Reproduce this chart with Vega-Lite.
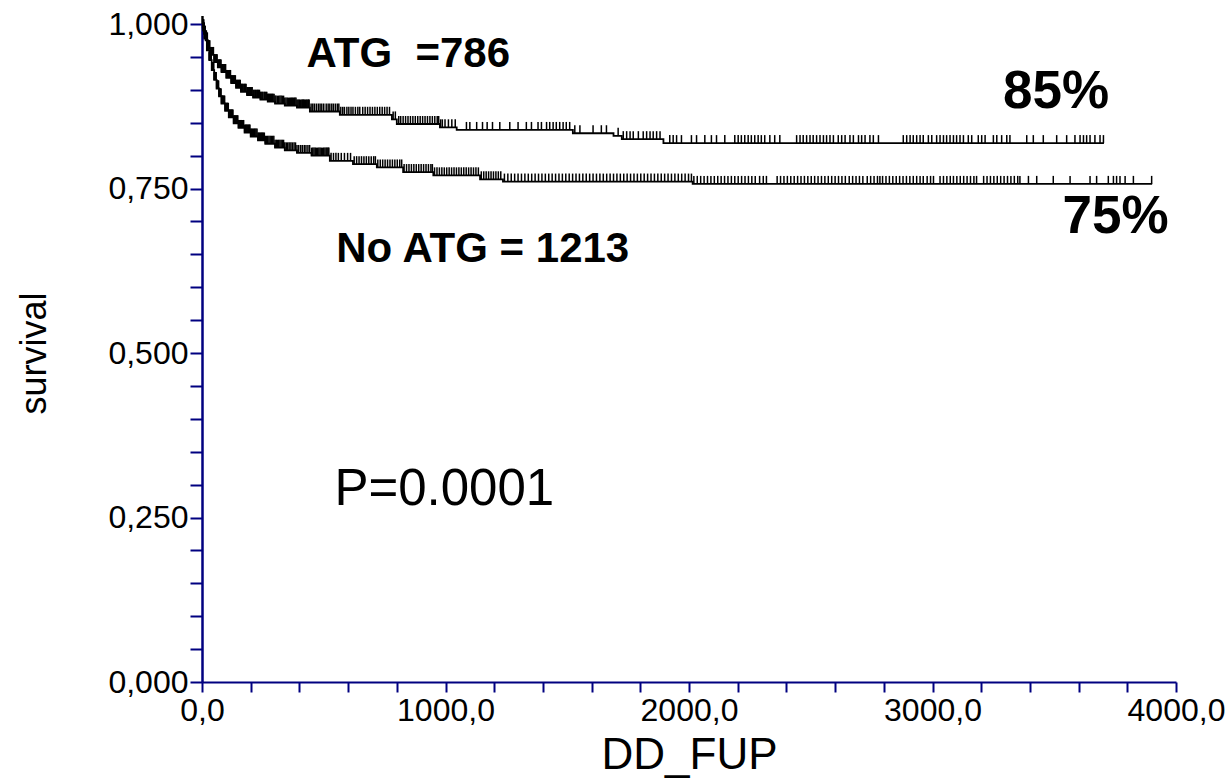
{
"$schema":"https://vega.github.io/schema/vega-lite/v6.json",
"autosize":{"type":"none"},
"padding":{"left":202,"top":24,"right":54,"bottom":97},
"width":974,"height":658,
"background":"white",
"config":{"view":{"stroke":null},"font":"Liberation Sans"},
"resolve":{"axis":{"y":"independent"}},
"datasets":{
"km":[
{"g":"A","t":0,"s":1},{"g":"A","t":3,"s":0.995},{"g":"A","t":8,"s":0.985},{"g":"A","t":15,"s":0.975},{"g":"A","t":25,"s":0.963},{"g":"A","t":35,"s":0.953},{"g":"A","t":50,"s":0.942},{"g":"A","t":65,"s":0.934},{"g":"A","t":80,"s":0.927},{"g":"A","t":100,"s":0.918},{"g":"A","t":120,"s":0.91},{"g":"A","t":140,"s":0.903},{"g":"A","t":160,"s":0.897},{"g":"A","t":185,"s":0.892},{"g":"A","t":210,"s":0.888},{"g":"A","t":240,"s":0.885},{"g":"A","t":270,"s":0.882},{"g":"A","t":300,"s":0.879},{"g":"A","t":340,"s":0.876},{"g":"A","t":390,"s":0.873},{"g":"A","t":443,"s":0.867},{"g":"A","t":566,"s":0.862},{"g":"A","t":780,"s":0.855},{"g":"A","t":800,"s":0.848},{"g":"A","t":977,"s":0.843},{"g":"A","t":1046,"s":0.839},{"g":"A","t":1523,"s":0.834},{"g":"A","t":1690,"s":0.83},{"g":"A","t":1724,"s":0.825},{"g":"A","t":1895,"s":0.819},{"g":"A","t":3704,"s":0.819},
{"g":"N","t":0,"s":1},{"g":"N","t":5,"s":0.99},{"g":"N","t":10,"s":0.978},{"g":"N","t":20,"s":0.96},{"g":"N","t":30,"s":0.945},{"g":"N","t":40,"s":0.93},{"g":"N","t":50,"s":0.915},{"g":"N","t":60,"s":0.902},{"g":"N","t":70,"s":0.89},{"g":"N","t":80,"s":0.879},{"g":"N","t":95,"s":0.868},{"g":"N","t":110,"s":0.858},{"g":"N","t":130,"s":0.849},{"g":"N","t":150,"s":0.842},{"g":"N","t":175,"s":0.835},{"g":"N","t":200,"s":0.829},{"g":"N","t":230,"s":0.823},{"g":"N","t":260,"s":0.818},{"g":"N","t":300,"s":0.812},{"g":"N","t":340,"s":0.808},{"g":"N","t":390,"s":0.804},{"g":"N","t":450,"s":0.8},{"g":"N","t":525,"s":0.792},{"g":"N","t":620,"s":0.787},{"g":"N","t":718,"s":0.782},{"g":"N","t":826,"s":0.775},{"g":"N","t":950,"s":0.77},{"g":"N","t":1142,"s":0.764},{"g":"N","t":1236,"s":0.7605},{"g":"N","t":2015,"s":0.757},{"g":"N","t":3902,"s":0.757}
],
"cens":[
{"g":"A","t":1,"s":1},{"g":"A","t":2,"s":1},{"g":"A","t":4,"s":0.995},{"g":"A","t":6,"s":0.995},{"g":"A","t":7,"s":0.995},{"g":"A","t":9,"s":0.985},{"g":"A","t":10,"s":0.985},{"g":"A","t":12,"s":0.985},{"g":"A","t":13,"s":0.985},{"g":"A","t":17,"s":0.975},{"g":"A","t":18,"s":0.975},{"g":"A","t":22,"s":0.975},{"g":"A","t":27,"s":0.963},{"g":"A","t":28,"s":0.963},{"g":"A","t":32,"s":0.963},{"g":"A","t":37,"s":0.953},{"g":"A","t":42,"s":0.953},{"g":"A","t":47,"s":0.953},{"g":"A","t":52,"s":0.942},{"g":"A","t":60,"s":0.942},{"g":"A","t":70,"s":0.934},{"g":"A","t":74,"s":0.934},{"g":"A","t":78,"s":0.934},{"g":"A","t":82,"s":0.927},{"g":"A","t":87,"s":0.927},{"g":"A","t":92,"s":0.927},{"g":"A","t":97,"s":0.927},{"g":"A","t":102,"s":0.918},{"g":"A","t":107,"s":0.918},{"g":"A","t":112,"s":0.918},{"g":"A","t":117,"s":0.918},{"g":"A","t":122,"s":0.91},{"g":"A","t":127,"s":0.91},{"g":"A","t":132,"s":0.91},{"g":"A","t":137,"s":0.91},{"g":"A","t":142,"s":0.903},{"g":"A","t":147,"s":0.903},{"g":"A","t":152,"s":0.903},{"g":"A","t":157,"s":0.903},{"g":"A","t":162,"s":0.897},{"g":"A","t":168,"s":0.897},{"g":"A","t":175,"s":0.897},{"g":"A","t":181,"s":0.897},{"g":"A","t":188,"s":0.892},{"g":"A","t":194,"s":0.892},{"g":"A","t":200,"s":0.892},{"g":"A","t":206,"s":0.892},{"g":"A","t":213,"s":0.888},{"g":"A","t":220,"s":0.888},{"g":"A","t":228,"s":0.888},{"g":"A","t":236,"s":0.888},{"g":"A","t":243,"s":0.885},{"g":"A","t":250,"s":0.885},{"g":"A","t":258,"s":0.885},{"g":"A","t":266,"s":0.885},{"g":"A","t":273,"s":0.882},{"g":"A","t":281,"s":0.882},{"g":"A","t":289,"s":0.882},{"g":"A","t":296,"s":0.882},{"g":"A","t":304,"s":0.879},{"g":"A","t":315,"s":0.879},{"g":"A","t":325,"s":0.879},{"g":"A","t":335,"s":0.879},{"g":"A","t":345,"s":0.876},{"g":"A","t":355,"s":0.876},{"g":"A","t":364,"s":0.876},{"g":"A","t":371,"s":0.876},{"g":"A","t":379,"s":0.876},{"g":"A","t":386,"s":0.876},{"g":"A","t":394,"s":0.873},{"g":"A","t":401,"s":0.873},{"g":"A","t":412,"s":0.873},{"g":"A","t":418,"s":0.873},{"g":"A","t":428,"s":0.873},{"g":"A","t":438,"s":0.873},
{"g":"A","t":3,"s":0.995},{"g":"A","t":5,"s":0.995},{"g":"A","t":8,"s":0.985},{"g":"A","t":11,"s":0.985},{"g":"A","t":15,"s":0.975},{"g":"A","t":20,"s":0.975},{"g":"A","t":25,"s":0.963},{"g":"A","t":30,"s":0.963},{"g":"A","t":35,"s":0.953},{"g":"A","t":40,"s":0.953},{"g":"A","t":45,"s":0.953},{"g":"A","t":50,"s":0.942},{"g":"A","t":55,"s":0.942},{"g":"A","t":58,"s":0.942},{"g":"A","t":62,"s":0.942},{"g":"A","t":65,"s":0.934},{"g":"A","t":68,"s":0.934},{"g":"A","t":72,"s":0.934},{"g":"A","t":76,"s":0.934},{"g":"A","t":80,"s":0.927},{"g":"A","t":85,"s":0.927},{"g":"A","t":90,"s":0.927},{"g":"A","t":95,"s":0.927},{"g":"A","t":100,"s":0.918},{"g":"A","t":105,"s":0.918},{"g":"A","t":110,"s":0.918},{"g":"A","t":115,"s":0.918},{"g":"A","t":120,"s":0.91},{"g":"A","t":125,"s":0.91},{"g":"A","t":130,"s":0.91},{"g":"A","t":135,"s":0.91},{"g":"A","t":140,"s":0.903},{"g":"A","t":145,"s":0.903},{"g":"A","t":150,"s":0.903},{"g":"A","t":155,"s":0.903},{"g":"A","t":160,"s":0.897},{"g":"A","t":165,"s":0.897},{"g":"A","t":172,"s":0.897},{"g":"A","t":178,"s":0.897},{"g":"A","t":185,"s":0.892},{"g":"A","t":190,"s":0.892},{"g":"A","t":197,"s":0.892},{"g":"A","t":203,"s":0.892},{"g":"A","t":210,"s":0.888},{"g":"A","t":217,"s":0.888},{"g":"A","t":225,"s":0.888},{"g":"A","t":232,"s":0.888},{"g":"A","t":240,"s":0.885},{"g":"A","t":247,"s":0.885},{"g":"A","t":255,"s":0.885},{"g":"A","t":262,"s":0.885},{"g":"A","t":270,"s":0.882},{"g":"A","t":277,"s":0.882},{"g":"A","t":285,"s":0.882},{"g":"A","t":292,"s":0.882},{"g":"A","t":300,"s":0.879},{"g":"A","t":310,"s":0.879},{"g":"A","t":320,"s":0.879},{"g":"A","t":330,"s":0.879},{"g":"A","t":340,"s":0.876},{"g":"A","t":350,"s":0.876},{"g":"A","t":360,"s":0.876},{"g":"A","t":368,"s":0.876},{"g":"A","t":375,"s":0.876},{"g":"A","t":382,"s":0.876},{"g":"A","t":390,"s":0.873},{"g":"A","t":398,"s":0.873},{"g":"A","t":405,"s":0.873},{"g":"A","t":410,"s":0.873},{"g":"A","t":415,"s":0.873},{"g":"A","t":420,"s":0.873},{"g":"A","t":425,"s":0.873},{"g":"A","t":432,"s":0.873},{"g":"A","t":436,"s":0.873},{"g":"A","t":440,"s":0.873},
{"g":"A","t":448,"s":0.867},{"g":"A","t":455,"s":0.867},{"g":"A","t":462,"s":0.867},{"g":"A","t":470,"s":0.867},{"g":"A","t":478,"s":0.867},{"g":"A","t":485,"s":0.867},{"g":"A","t":492,"s":0.867},{"g":"A","t":500,"s":0.867},{"g":"A","t":510,"s":0.867},{"g":"A","t":518,"s":0.867},{"g":"A","t":525,"s":0.867},{"g":"A","t":533,"s":0.867},{"g":"A","t":540,"s":0.867},{"g":"A","t":548,"s":0.867},{"g":"A","t":556,"s":0.867},{"g":"A","t":562,"s":0.867},
{"g":"A","t":570,"s":0.862},{"g":"A","t":578,"s":0.862},{"g":"A","t":585,"s":0.862},{"g":"A","t":595,"s":0.862},{"g":"A","t":603,"s":0.862},{"g":"A","t":612,"s":0.862},{"g":"A","t":620,"s":0.862},{"g":"A","t":630,"s":0.862},{"g":"A","t":640,"s":0.862},{"g":"A","t":648,"s":0.862},{"g":"A","t":660,"s":0.862},{"g":"A","t":670,"s":0.862},{"g":"A","t":680,"s":0.862},{"g":"A","t":690,"s":0.862},{"g":"A","t":700,"s":0.862},{"g":"A","t":710,"s":0.862},{"g":"A","t":720,"s":0.862},{"g":"A","t":730,"s":0.862},{"g":"A","t":740,"s":0.862},{"g":"A","t":750,"s":0.862},{"g":"A","t":760,"s":0.862},{"g":"A","t":770,"s":0.862},
{"g":"A","t":785,"s":0.855},{"g":"A","t":794,"s":0.855},
{"g":"A","t":808,"s":0.848},{"g":"A","t":816,"s":0.848},{"g":"A","t":826,"s":0.848},{"g":"A","t":836,"s":0.848},{"g":"A","t":846,"s":0.848},{"g":"A","t":856,"s":0.848},{"g":"A","t":866,"s":0.848},{"g":"A","t":876,"s":0.848},{"g":"A","t":886,"s":0.848},{"g":"A","t":896,"s":0.848},{"g":"A","t":906,"s":0.848},{"g":"A","t":916,"s":0.848},{"g":"A","t":926,"s":0.848},{"g":"A","t":936,"s":0.848},{"g":"A","t":946,"s":0.848},{"g":"A","t":956,"s":0.848},{"g":"A","t":966,"s":0.848},{"g":"A","t":972,"s":0.848},
{"g":"A","t":980,"s":0.843},{"g":"A","t":987,"s":0.843},{"g":"A","t":998,"s":0.843},{"g":"A","t":1012,"s":0.843},{"g":"A","t":1026,"s":0.843},{"g":"A","t":1040,"s":0.843},
{"g":"A","t":1086,"s":0.839},{"g":"A","t":1100,"s":0.839},{"g":"A","t":1128,"s":0.839},{"g":"A","t":1152,"s":0.839},{"g":"A","t":1171,"s":0.839},{"g":"A","t":1193,"s":0.839},{"g":"A","t":1223,"s":0.839},{"g":"A","t":1264,"s":0.839},{"g":"A","t":1298,"s":0.839},{"g":"A","t":1332,"s":0.839},{"g":"A","t":1353,"s":0.839},{"g":"A","t":1380,"s":0.839},{"g":"A","t":1394,"s":0.839},{"g":"A","t":1415,"s":0.839},{"g":"A","t":1428,"s":0.839},{"g":"A","t":1442,"s":0.839},{"g":"A","t":1455,"s":0.839},{"g":"A","t":1469,"s":0.839},{"g":"A","t":1483,"s":0.839},{"g":"A","t":1496,"s":0.839},{"g":"A","t":1510,"s":0.839},
{"g":"A","t":1531,"s":0.834},{"g":"A","t":1552,"s":0.834},{"g":"A","t":1606,"s":0.834},{"g":"A","t":1640,"s":0.834},{"g":"A","t":1661,"s":0.834},
{"g":"A","t":1709,"s":0.83},
{"g":"A","t":1730,"s":0.825},{"g":"A","t":1744,"s":0.825},{"g":"A","t":1758,"s":0.825},{"g":"A","t":1771,"s":0.825},{"g":"A","t":1792,"s":0.825},{"g":"A","t":1812,"s":0.825},{"g":"A","t":1826,"s":0.825},{"g":"A","t":1840,"s":0.825},{"g":"A","t":1853,"s":0.825},{"g":"A","t":1867,"s":0.825},{"g":"A","t":1881,"s":0.825},
{"g":"A","t":1921,"s":0.819},{"g":"A","t":1935,"s":0.819},{"g":"A","t":1949,"s":0.819},{"g":"A","t":1969,"s":0.819},{"g":"A","t":2010,"s":0.819},{"g":"A","t":2031,"s":0.819},{"g":"A","t":2065,"s":0.819},{"g":"A","t":2092,"s":0.819},{"g":"A","t":2113,"s":0.819},{"g":"A","t":2147,"s":0.819},{"g":"A","t":2188,"s":0.819},{"g":"A","t":2202,"s":0.819},{"g":"A","t":2215,"s":0.819},{"g":"A","t":2229,"s":0.819},{"g":"A","t":2243,"s":0.819},{"g":"A","t":2256,"s":0.819},{"g":"A","t":2270,"s":0.819},{"g":"A","t":2284,"s":0.819},{"g":"A","t":2297,"s":0.819},{"g":"A","t":2311,"s":0.819},{"g":"A","t":2332,"s":0.819},{"g":"A","t":2352,"s":0.819},{"g":"A","t":2373,"s":0.819},{"g":"A","t":2442,"s":0.819},{"g":"A","t":2456,"s":0.819},{"g":"A","t":2469,"s":0.819},{"g":"A","t":2483,"s":0.819},{"g":"A","t":2497,"s":0.819},{"g":"A","t":2510,"s":0.819},{"g":"A","t":2524,"s":0.819},{"g":"A","t":2538,"s":0.819},{"g":"A","t":2552,"s":0.819},{"g":"A","t":2565,"s":0.819},{"g":"A","t":2579,"s":0.819},{"g":"A","t":2593,"s":0.819},{"g":"A","t":2613,"s":0.819},{"g":"A","t":2627,"s":0.819},{"g":"A","t":2641,"s":0.819},{"g":"A","t":2661,"s":0.819},{"g":"A","t":2675,"s":0.819},{"g":"A","t":2696,"s":0.819},{"g":"A","t":2709,"s":0.819},{"g":"A","t":2723,"s":0.819},{"g":"A","t":2743,"s":0.819},{"g":"A","t":2757,"s":0.819},{"g":"A","t":2778,"s":0.819},{"g":"A","t":2880,"s":0.819},{"g":"A","t":2894,"s":0.819},{"g":"A","t":2908,"s":0.819},{"g":"A","t":2921,"s":0.819},{"g":"A","t":2935,"s":0.819},{"g":"A","t":2949,"s":0.819},{"g":"A","t":2962,"s":0.819},{"g":"A","t":2983,"s":0.819},{"g":"A","t":2997,"s":0.819},{"g":"A","t":3017,"s":0.819},{"g":"A","t":3031,"s":0.819},{"g":"A","t":3045,"s":0.819},{"g":"A","t":3058,"s":0.819},{"g":"A","t":3072,"s":0.819},{"g":"A","t":3086,"s":0.819},{"g":"A","t":3099,"s":0.819},{"g":"A","t":3113,"s":0.819},{"g":"A","t":3127,"s":0.819},{"g":"A","t":3147,"s":0.819},{"g":"A","t":3161,"s":0.819},{"g":"A","t":3188,"s":0.819},{"g":"A","t":3202,"s":0.819},{"g":"A","t":3216,"s":0.819},{"g":"A","t":3250,"s":0.819},{"g":"A","t":3264,"s":0.819},{"g":"A","t":3284,"s":0.819},{"g":"A","t":3305,"s":0.819},{"g":"A","t":3318,"s":0.819},{"g":"A","t":3387,"s":0.819},{"g":"A","t":3414,"s":0.819},{"g":"A","t":3455,"s":0.819},{"g":"A","t":3510,"s":0.819},{"g":"A","t":3551,"s":0.819},{"g":"A","t":3585,"s":0.819},{"g":"A","t":3606,"s":0.819},{"g":"A","t":3620,"s":0.819},{"g":"A","t":3633,"s":0.819},{"g":"A","t":3647,"s":0.819},{"g":"A","t":3667,"s":0.819},{"g":"A","t":3688,"s":0.819},{"g":"A","t":3702,"s":0.819},
{"g":"N","t":2,"s":1},{"g":"N","t":3,"s":1},{"g":"N","t":6,"s":0.99},{"g":"N","t":8,"s":0.99},{"g":"N","t":9,"s":0.99},{"g":"N","t":11,"s":0.978},{"g":"N","t":13,"s":0.978},{"g":"N","t":14,"s":0.978},{"g":"N","t":18,"s":0.978},{"g":"N","t":21,"s":0.96},{"g":"N","t":23,"s":0.96},{"g":"N","t":24,"s":0.96},{"g":"N","t":28,"s":0.96},{"g":"N","t":31,"s":0.945},{"g":"N","t":33,"s":0.945},{"g":"N","t":38,"s":0.945},{"g":"N","t":43,"s":0.93},{"g":"N","t":48,"s":0.93},{"g":"N","t":53,"s":0.915},{"g":"N","t":58,"s":0.915},{"g":"N","t":63,"s":0.902},{"g":"N","t":68,"s":0.902},{"g":"N","t":73,"s":0.89},{"g":"N","t":78,"s":0.89},{"g":"N","t":82,"s":0.879},{"g":"N","t":86,"s":0.879},{"g":"N","t":93,"s":0.879},{"g":"N","t":97,"s":0.868},{"g":"N","t":104,"s":0.868},{"g":"N","t":108,"s":0.868},{"g":"N","t":112,"s":0.858},{"g":"N","t":117,"s":0.858},{"g":"N","t":122,"s":0.858},{"g":"N","t":127,"s":0.858},{"g":"N","t":132,"s":0.849},{"g":"N","t":137,"s":0.849},{"g":"N","t":142,"s":0.849},{"g":"N","t":147,"s":0.849},{"g":"N","t":153,"s":0.842},{"g":"N","t":159,"s":0.842},{"g":"N","t":165,"s":0.842},{"g":"N","t":171,"s":0.842},{"g":"N","t":178,"s":0.835},{"g":"N","t":184,"s":0.835},{"g":"N","t":191,"s":0.835},{"g":"N","t":197,"s":0.835},{"g":"N","t":203,"s":0.829},{"g":"N","t":211,"s":0.829},{"g":"N","t":218,"s":0.829},{"g":"N","t":226,"s":0.829},{"g":"N","t":233,"s":0.823},{"g":"N","t":241,"s":0.823},{"g":"N","t":248,"s":0.823},{"g":"N","t":256,"s":0.823},{"g":"N","t":265,"s":0.818},{"g":"N","t":275,"s":0.818},{"g":"N","t":285,"s":0.818},{"g":"N","t":295,"s":0.818},{"g":"N","t":305,"s":0.812},{"g":"N","t":315,"s":0.812},{"g":"N","t":325,"s":0.812},{"g":"N","t":335,"s":0.812},{"g":"N","t":346,"s":0.808},{"g":"N","t":358,"s":0.808},{"g":"N","t":371,"s":0.808},{"g":"N","t":384,"s":0.808},{"g":"N","t":397,"s":0.804},{"g":"N","t":412,"s":0.804},{"g":"N","t":427,"s":0.804},{"g":"N","t":442,"s":0.804},{"g":"N","t":455,"s":0.8},{"g":"N","t":465,"s":0.8},{"g":"N","t":475,"s":0.8},{"g":"N","t":485,"s":0.8},{"g":"N","t":495,"s":0.8},{"g":"N","t":505,"s":0.8},{"g":"N","t":514,"s":0.8},{"g":"N","t":521,"s":0.8},
{"g":"N","t":5,"s":0.99},{"g":"N","t":7,"s":0.99},{"g":"N","t":10,"s":0.978},{"g":"N","t":12,"s":0.978},{"g":"N","t":15,"s":0.978},{"g":"N","t":17,"s":0.978},{"g":"N","t":20,"s":0.96},{"g":"N","t":22,"s":0.96},{"g":"N","t":25,"s":0.96},{"g":"N","t":27,"s":0.96},{"g":"N","t":30,"s":0.945},{"g":"N","t":32,"s":0.945},{"g":"N","t":35,"s":0.945},{"g":"N","t":37,"s":0.945},{"g":"N","t":40,"s":0.93},{"g":"N","t":42,"s":0.93},{"g":"N","t":45,"s":0.93},{"g":"N","t":47,"s":0.93},{"g":"N","t":50,"s":0.915},{"g":"N","t":52,"s":0.915},{"g":"N","t":55,"s":0.915},{"g":"N","t":57,"s":0.915},{"g":"N","t":60,"s":0.902},{"g":"N","t":62,"s":0.902},{"g":"N","t":65,"s":0.902},{"g":"N","t":67,"s":0.902},{"g":"N","t":70,"s":0.89},{"g":"N","t":72,"s":0.89},{"g":"N","t":75,"s":0.89},{"g":"N","t":77,"s":0.89},{"g":"N","t":80,"s":0.879},{"g":"N","t":84,"s":0.879},{"g":"N","t":88,"s":0.879},{"g":"N","t":91,"s":0.879},{"g":"N","t":95,"s":0.868},{"g":"N","t":99,"s":0.868},{"g":"N","t":102,"s":0.868},{"g":"N","t":106,"s":0.868},{"g":"N","t":110,"s":0.858},{"g":"N","t":115,"s":0.858},{"g":"N","t":120,"s":0.858},{"g":"N","t":125,"s":0.858},{"g":"N","t":130,"s":0.849},{"g":"N","t":135,"s":0.849},{"g":"N","t":140,"s":0.849},{"g":"N","t":145,"s":0.849},{"g":"N","t":150,"s":0.842},{"g":"N","t":156,"s":0.842},{"g":"N","t":162,"s":0.842},{"g":"N","t":168,"s":0.842},{"g":"N","t":175,"s":0.835},{"g":"N","t":181,"s":0.835},{"g":"N","t":188,"s":0.835},{"g":"N","t":194,"s":0.835},{"g":"N","t":200,"s":0.829},{"g":"N","t":207,"s":0.829},{"g":"N","t":215,"s":0.829},{"g":"N","t":222,"s":0.829},{"g":"N","t":230,"s":0.823},{"g":"N","t":237,"s":0.823},{"g":"N","t":245,"s":0.823},{"g":"N","t":252,"s":0.823},{"g":"N","t":260,"s":0.818},{"g":"N","t":270,"s":0.818},{"g":"N","t":280,"s":0.818},{"g":"N","t":290,"s":0.818},{"g":"N","t":300,"s":0.812},{"g":"N","t":310,"s":0.812},{"g":"N","t":320,"s":0.812},{"g":"N","t":330,"s":0.812},{"g":"N","t":340,"s":0.808},{"g":"N","t":352,"s":0.808},{"g":"N","t":365,"s":0.808},{"g":"N","t":378,"s":0.808},{"g":"N","t":390,"s":0.804},{"g":"N","t":405,"s":0.804},{"g":"N","t":420,"s":0.804},{"g":"N","t":435,"s":0.804},{"g":"N","t":450,"s":0.8},{"g":"N","t":460,"s":0.8},{"g":"N","t":470,"s":0.8},{"g":"N","t":480,"s":0.8},{"g":"N","t":490,"s":0.8},{"g":"N","t":500,"s":0.8},{"g":"N","t":510,"s":0.8},{"g":"N","t":518,"s":0.8},
{"g":"N","t":530,"s":0.792},{"g":"N","t":540,"s":0.792},{"g":"N","t":550,"s":0.792},{"g":"N","t":560,"s":0.792},{"g":"N","t":572,"s":0.792},{"g":"N","t":585,"s":0.792},{"g":"N","t":598,"s":0.792},{"g":"N","t":610,"s":0.792},
{"g":"N","t":625,"s":0.787},{"g":"N","t":635,"s":0.787},{"g":"N","t":645,"s":0.787},{"g":"N","t":655,"s":0.787},{"g":"N","t":665,"s":0.787},{"g":"N","t":675,"s":0.787},{"g":"N","t":685,"s":0.787},{"g":"N","t":695,"s":0.787},{"g":"N","t":705,"s":0.787},{"g":"N","t":712,"s":0.787},
{"g":"N","t":722,"s":0.782},{"g":"N","t":732,"s":0.782},{"g":"N","t":742,"s":0.782},{"g":"N","t":752,"s":0.782},{"g":"N","t":762,"s":0.782},{"g":"N","t":772,"s":0.782},{"g":"N","t":782,"s":0.782},{"g":"N","t":792,"s":0.782},{"g":"N","t":802,"s":0.782},{"g":"N","t":812,"s":0.782},{"g":"N","t":820,"s":0.782},
{"g":"N","t":830,"s":0.775},{"g":"N","t":840,"s":0.775},{"g":"N","t":850,"s":0.775},{"g":"N","t":860,"s":0.775},{"g":"N","t":870,"s":0.775},{"g":"N","t":880,"s":0.775},{"g":"N","t":890,"s":0.775},{"g":"N","t":900,"s":0.775},{"g":"N","t":910,"s":0.775},{"g":"N","t":920,"s":0.775},{"g":"N","t":930,"s":0.775},{"g":"N","t":940,"s":0.775},{"g":"N","t":946,"s":0.775},
{"g":"N","t":955,"s":0.77},{"g":"N","t":965,"s":0.77},{"g":"N","t":975,"s":0.77},{"g":"N","t":985,"s":0.77},{"g":"N","t":995,"s":0.77},{"g":"N","t":1005,"s":0.77},{"g":"N","t":1015,"s":0.77},{"g":"N","t":1025,"s":0.77},{"g":"N","t":1035,"s":0.77},{"g":"N","t":1045,"s":0.77},{"g":"N","t":1055,"s":0.77},{"g":"N","t":1065,"s":0.77},{"g":"N","t":1075,"s":0.77},{"g":"N","t":1085,"s":0.77},{"g":"N","t":1095,"s":0.77},{"g":"N","t":1105,"s":0.77},{"g":"N","t":1115,"s":0.77},{"g":"N","t":1125,"s":0.77},{"g":"N","t":1135,"s":0.77},
{"g":"N","t":1147,"s":0.764},{"g":"N","t":1157,"s":0.764},{"g":"N","t":1167,"s":0.764},{"g":"N","t":1177,"s":0.764},{"g":"N","t":1187,"s":0.764},{"g":"N","t":1197,"s":0.764},{"g":"N","t":1207,"s":0.764},{"g":"N","t":1217,"s":0.764},{"g":"N","t":1227,"s":0.764},
{"g":"N","t":1242,"s":0.7605},{"g":"N","t":1256,"s":0.7605},{"g":"N","t":1270,"s":0.7605},{"g":"N","t":1284,"s":0.7605},{"g":"N","t":1298,"s":0.7605},{"g":"N","t":1312,"s":0.7605},{"g":"N","t":1326,"s":0.7605},{"g":"N","t":1340,"s":0.7605},{"g":"N","t":1354,"s":0.7605},{"g":"N","t":1368,"s":0.7605},{"g":"N","t":1382,"s":0.7605},{"g":"N","t":1396,"s":0.7605},{"g":"N","t":1410,"s":0.7605},{"g":"N","t":1424,"s":0.7605},{"g":"N","t":1438,"s":0.7605},{"g":"N","t":1452,"s":0.7605},{"g":"N","t":1466,"s":0.7605},{"g":"N","t":1480,"s":0.7605},{"g":"N","t":1494,"s":0.7605},{"g":"N","t":1508,"s":0.7605},{"g":"N","t":1522,"s":0.7605},{"g":"N","t":1536,"s":0.7605},{"g":"N","t":1550,"s":0.7605},{"g":"N","t":1564,"s":0.7605},{"g":"N","t":1578,"s":0.7605},{"g":"N","t":1592,"s":0.7605},{"g":"N","t":1606,"s":0.7605},{"g":"N","t":1620,"s":0.7605},{"g":"N","t":1634,"s":0.7605},{"g":"N","t":1648,"s":0.7605},{"g":"N","t":1662,"s":0.7605},{"g":"N","t":1676,"s":0.7605},{"g":"N","t":1690,"s":0.7605},{"g":"N","t":1704,"s":0.7605},{"g":"N","t":1718,"s":0.7605},{"g":"N","t":1732,"s":0.7605},{"g":"N","t":1746,"s":0.7605},{"g":"N","t":1760,"s":0.7605},{"g":"N","t":1774,"s":0.7605},{"g":"N","t":1788,"s":0.7605},{"g":"N","t":1802,"s":0.7605},{"g":"N","t":1816,"s":0.7605},{"g":"N","t":1830,"s":0.7605},{"g":"N","t":1844,"s":0.7605},{"g":"N","t":1858,"s":0.7605},{"g":"N","t":1872,"s":0.7605},{"g":"N","t":1886,"s":0.7605},{"g":"N","t":1900,"s":0.7605},{"g":"N","t":1914,"s":0.7605},{"g":"N","t":1928,"s":0.7605},{"g":"N","t":1942,"s":0.7605},{"g":"N","t":1956,"s":0.7605},{"g":"N","t":1970,"s":0.7605},{"g":"N","t":1984,"s":0.7605},{"g":"N","t":1998,"s":0.7605},{"g":"N","t":2010,"s":0.7605},
{"g":"N","t":2020,"s":0.757},{"g":"N","t":2034,"s":0.757},{"g":"N","t":2048,"s":0.757},{"g":"N","t":2062,"s":0.757},{"g":"N","t":2076,"s":0.757},{"g":"N","t":2090,"s":0.757},{"g":"N","t":2104,"s":0.757},{"g":"N","t":2118,"s":0.757},{"g":"N","t":2132,"s":0.757},{"g":"N","t":2146,"s":0.757},{"g":"N","t":2160,"s":0.757},{"g":"N","t":2174,"s":0.757},{"g":"N","t":2188,"s":0.757},{"g":"N","t":2202,"s":0.757},{"g":"N","t":2216,"s":0.757},{"g":"N","t":2230,"s":0.757},{"g":"N","t":2244,"s":0.757},{"g":"N","t":2258,"s":0.757},{"g":"N","t":2272,"s":0.757},{"g":"N","t":2290,"s":0.757},{"g":"N","t":2305,"s":0.757},{"g":"N","t":2318,"s":0.757},{"g":"N","t":2362,"s":0.757},{"g":"N","t":2376,"s":0.757},{"g":"N","t":2390,"s":0.757},{"g":"N","t":2404,"s":0.757},{"g":"N","t":2418,"s":0.757},{"g":"N","t":2432,"s":0.757},{"g":"N","t":2446,"s":0.757},{"g":"N","t":2460,"s":0.757},{"g":"N","t":2474,"s":0.757},{"g":"N","t":2488,"s":0.757},{"g":"N","t":2502,"s":0.757},{"g":"N","t":2516,"s":0.757},{"g":"N","t":2530,"s":0.757},{"g":"N","t":2544,"s":0.757},{"g":"N","t":2558,"s":0.757},{"g":"N","t":2572,"s":0.757},{"g":"N","t":2586,"s":0.757},{"g":"N","t":2600,"s":0.757},{"g":"N","t":2614,"s":0.757},{"g":"N","t":2628,"s":0.757},{"g":"N","t":2642,"s":0.757},{"g":"N","t":2658,"s":0.757},{"g":"N","t":2672,"s":0.757},{"g":"N","t":2686,"s":0.757},{"g":"N","t":2700,"s":0.757},{"g":"N","t":2714,"s":0.757},{"g":"N","t":2732,"s":0.757},{"g":"N","t":2746,"s":0.757},{"g":"N","t":2760,"s":0.757},{"g":"N","t":2774,"s":0.757},{"g":"N","t":2784,"s":0.757},{"g":"N","t":2795,"s":0.757},{"g":"N","t":2809,"s":0.757},{"g":"N","t":2823,"s":0.757},{"g":"N","t":2837,"s":0.757},{"g":"N","t":2851,"s":0.757},{"g":"N","t":2865,"s":0.757},{"g":"N","t":2879,"s":0.757},{"g":"N","t":2893,"s":0.757},{"g":"N","t":2907,"s":0.757},{"g":"N","t":2921,"s":0.757},{"g":"N","t":2935,"s":0.757},{"g":"N","t":2949,"s":0.757},{"g":"N","t":2962,"s":0.757},{"g":"N","t":2978,"s":0.757},{"g":"N","t":2992,"s":0.757},{"g":"N","t":3004,"s":0.757},{"g":"N","t":3031,"s":0.757},{"g":"N","t":3045,"s":0.757},{"g":"N","t":3059,"s":0.757},{"g":"N","t":3073,"s":0.757},{"g":"N","t":3086,"s":0.757},{"g":"N","t":3100,"s":0.757},{"g":"N","t":3114,"s":0.757},{"g":"N","t":3128,"s":0.757},{"g":"N","t":3142,"s":0.757},{"g":"N","t":3156,"s":0.757},{"g":"N","t":3170,"s":0.757},{"g":"N","t":3181,"s":0.757},{"g":"N","t":3210,"s":0.757},{"g":"N","t":3224,"s":0.757},{"g":"N","t":3238,"s":0.757},{"g":"N","t":3252,"s":0.757},{"g":"N","t":3266,"s":0.757},{"g":"N","t":3280,"s":0.757},{"g":"N","t":3294,"s":0.757},{"g":"N","t":3308,"s":0.757},{"g":"N","t":3322,"s":0.757},{"g":"N","t":3336,"s":0.757},{"g":"N","t":3350,"s":0.757},{"g":"N","t":3359,"s":0.757},{"g":"N","t":3394,"s":0.757},{"g":"N","t":3428,"s":0.757},{"g":"N","t":3496,"s":0.757},{"g":"N","t":3565,"s":0.757},{"g":"N","t":3647,"s":0.757},{"g":"N","t":3674,"s":0.757},{"g":"N","t":3722,"s":0.757},{"g":"N","t":3743,"s":0.757},{"g":"N","t":3756,"s":0.757},{"g":"N","t":3770,"s":0.757},{"g":"N","t":3791,"s":0.757},{"g":"N","t":3825,"s":0.757},{"g":"N","t":3900,"s":0.757}
],
"groups":[{"t":847,"s":0.9347,"label":"ATG \u00a0=786"},{"t":1153,"s":0.6383,"label":"No ATG = 1213"}],
"pct":[{"t":3507,"s":0.8723,"label":"85%"},{"t":3752,"s":0.6824,"label":"75%"}],
"pval":[{"t":995,"s":0.269,"label":"P=0.0001"}]
},
"layer":[
{"data":{"name":"km"},
 "mark":{"type":"line","interpolate":"step-after","color":"black","strokeWidth":1.8},
 "encoding":{
  "x":{"field":"t","type":"quantitative","scale":{"domain":[0,4000],"nice":false},
   "axis":{"title":"DD_FUP","values":[0,200,400,600,800,1000,1200,1400,1600,1800,2000,2200,2400,2600,2800,3000,3200,3400,3600,3800,4000],
    "labelExpr":"datum.value % 1000 === 0 ? replace(format(datum.value, '.1f'), '.', ',') : ''",
    "grid":false,"domainColor":"#000080","domainWidth":2,"tickColor":"#000080","tickWidth":2,"tickSize":10,
    "labelFontSize":32,"labelColor":"black","labelFont":"Liberation Sans","labelPadding":3,"labelOverlap":false,"labelFlush":false,"labelBound":false,
    "titleFontSize":44,"titleFontWeight":"normal","titleFont":"Liberation Sans","titleColor":"black","titlePadding":7}},
  "y":{"field":"s","type":"quantitative","scale":{"domain":[0,1],"nice":false},
   "axis":{"title":"survival","orient":"left","values":[0,0.25,0.5,0.75,1],
    "labelExpr":"replace(format(datum.value, '.3f'), '.', ',')",
    "grid":false,"domainColor":"#000080","domainWidth":2,"tickColor":"#000080","tickWidth":2,"tickSize":12,
    "labelFontSize":32,"labelColor":"black","labelFont":"Liberation Sans","labelPadding":2,"labelOverlap":false,"labelFlush":false,"labelBound":false,
    "titleFontSize":36,"titleFontWeight":"normal","titleFont":"Liberation Sans","titleColor":"black","titlePadding":54}},
  "detail":{"field":"g","type":"nominal"}
 }},
{"data":{"name":"cens"},
 "mark":{"type":"tick","orient":"vertical","color":"black","size":8,"thickness":1.5,"yOffset":-4,"opacity":1},
 "encoding":{"x":{"field":"t","type":"quantitative"},
  "y":{"field":"s","type":"quantitative","axis":{"orient":"left","title":null,"labels":false,"values":[0.05,0.1,0.15,0.2,0.3,0.35,0.4,0.45,0.55,0.6,0.65,0.7,0.8,0.85,0.9,0.95],"grid":false,"domainColor":"#000080","domainWidth":2,"tickColor":"#000080","tickWidth":2,"tickSize":12}}}},
{"data":{"name":"groups"},
 "mark":{"type":"text","font":"Liberation Sans","fontWeight":"bold","fontSize":42,"align":"center","baseline":"alphabetic","color":"black"},
 "encoding":{"x":{"field":"t","type":"quantitative"},"y":{"field":"s","type":"quantitative","axis":null},"text":{"field":"label"}}},
{"data":{"name":"pct"},
 "mark":{"type":"text","font":"Liberation Sans","fontWeight":"bold","fontSize":53,"align":"center","baseline":"alphabetic","color":"black"},
 "encoding":{"x":{"field":"t","type":"quantitative"},"y":{"field":"s","type":"quantitative","axis":null},"text":{"field":"label"}}},
{"data":{"name":"pval"},
 "mark":{"type":"text","font":"Liberation Sans","fontSize":51,"align":"center","baseline":"alphabetic","color":"black"},
 "encoding":{"x":{"field":"t","type":"quantitative"},"y":{"field":"s","type":"quantitative","axis":null},"text":{"field":"label"}}}
]
}
